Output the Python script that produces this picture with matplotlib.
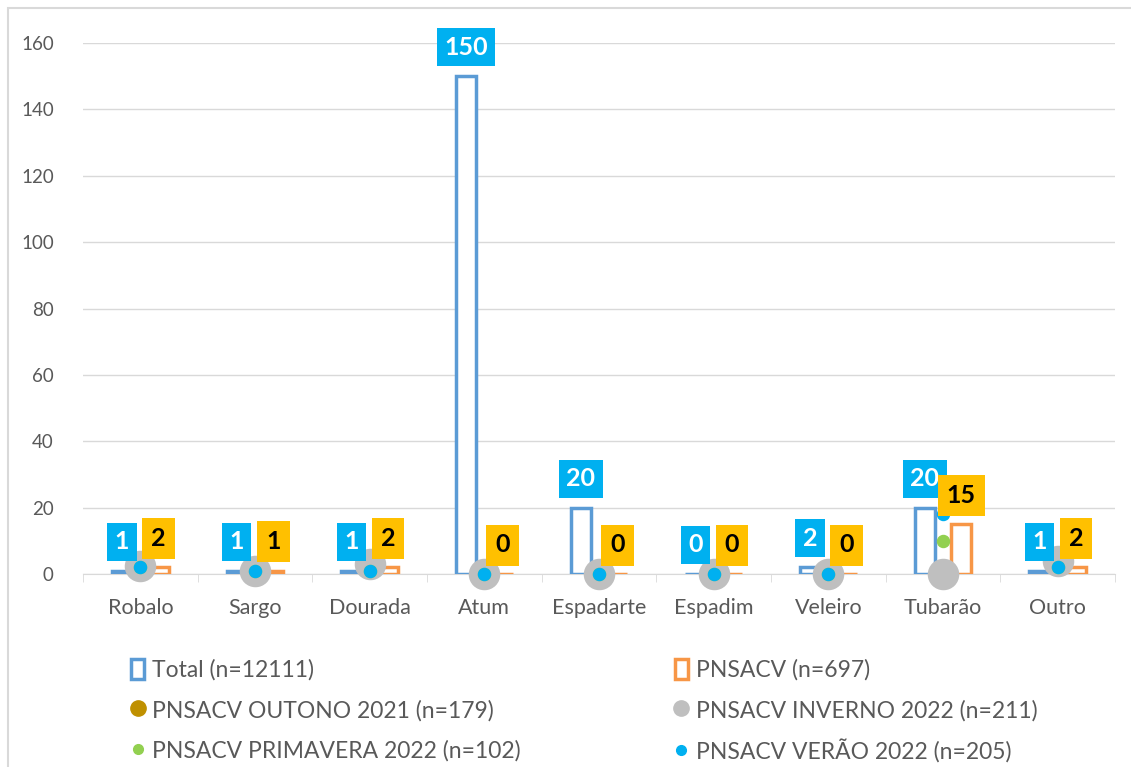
import numpy as np
import matplotlib.pyplot as plt
from matplotlib.patches import Patch, Rectangle
from matplotlib.lines import Line2D

plt.rcParams['font.family'] = ['Lato', 'DejaVu Sans']

especies = ['Robalo', 'Sargo', 'Dourada', 'Atum', 'Espadarte',
            'Espadim', 'Veleiro', 'Tubarão', 'Outro']
total = [1, 1, 1, 150, 20, 0, 2, 20, 1]
pnsacv = [2, 1, 2, 0, 0, 0, 0, 15, 2]
outono = [2.5, 1, 3, 0, 0, 0, 0, 0, 4]
inverno = [2.5, 1, 3, 0, 0, 0, 0, 0, 4]
primavera = [2, 1, 1, 0, 0, 0, 0, 10, 2]
verao = [2, 1, 1, 0, 0, 0, 0, 18, 2]

c_total = '#5B9BD5'
c_pnsacv = '#F79646'
c_outono = '#BF9000'
c_inverno = '#BFBFBF'
c_primavera = '#92D050'
c_verao = '#00B0F0'
c_lab_total = '#00B0F0'
c_lab_pnsacv = '#FFC000'
txt_grey = '#595959'

fig = plt.figure(figsize=(11.31, 7.67), dpi=100)
fig.patches.append(Rectangle((8 / 1131, -0.05), 1.2, 1 - 8 / 767 + 0.05,
                             transform=fig.transFigure, fill=False,
                             edgecolor='#D9D9D9', lw=1.5))
ax = fig.add_axes([83 / 1131, 1 - 574 / 767, (1115 - 83) / 1131, (574 - 43) / 767])

x = np.arange(len(especies))
w = 0.175
off = 0.16

ax.bar(x - off, total, w, facecolor='white', edgecolor=c_total, lw=2.5, zorder=3)
ax.bar(x + off, pnsacv, w, facecolor='white', edgecolor=c_pnsacv, lw=2.5, zorder=3)

ax.scatter(x, outono, s=200, color=c_outono, zorder=4, clip_on=False)
ax.scatter(x, inverno, s=470, color=c_inverno, zorder=5, clip_on=False)
ax.scatter(x, primavera, s=75, color=c_primavera, zorder=6, clip_on=False)
ax.scatter(x, verao, s=75, color=c_verao, zorder=7, clip_on=False)

# value boxes above the bars
for xi, v in zip(x, total):
    ax.annotate(str(v), (xi - off, v), xytext=(0, 29), textcoords='offset pixels',
                ha='center', va='center', fontsize=18, fontweight='bold', color='white',
                bbox=dict(boxstyle='square,pad=0.3', fc=c_lab_total, ec='none'), zorder=10)
for xi, v in zip(x, pnsacv):
    ax.annotate(str(v), (xi + off, v), xytext=(0, 29), textcoords='offset pixels',
                ha='center', va='center', fontsize=18, fontweight='bold', color='black',
                bbox=dict(boxstyle='square,pad=0.36', fc=c_lab_pnsacv, ec='none'), zorder=11)

ax.set_xlim(-0.5, len(especies) - 0.5)
ax.set_ylim(0, 160)
ax.set_yticks(np.arange(0, 161, 20))
ax.yaxis.grid(True, color='#D9D9D9', lw=1)
ax.set_axisbelow(True)
ax.tick_params(axis='y', length=0, labelsize=13.5, labelcolor=txt_grey, pad=21)
ax.set_xticks(x)
ax.set_xticklabels(especies)
ax.tick_params(axis='x', length=0, labelsize=15.5, labelcolor=txt_grey, pad=17)
ax.set_xticks(np.arange(-0.5, len(especies), 1), minor=True)
ax.tick_params(axis='x', which='minor', length=6, color='#D9D9D9')
for s in ['top', 'right', 'left']:
    ax.spines[s].set_visible(False)
ax.spines['bottom'].set_color('#D9D9D9')

h_total = Patch(facecolor='white', edgecolor=c_total, lw=2.5)
h_pnsacv = Patch(facecolor='white', edgecolor=c_pnsacv, lw=2.5)
def dot(c, ms):
    return Line2D([], [], ls='none', marker='o', color=c, markersize=ms)

handles = [h_total, dot(c_outono, 11), dot(c_primavera, 7),
           h_pnsacv, dot(c_inverno, 11), dot(c_verao, 7)]
labels = ['Total (n=12111)', 'PNSACV OUTONO 2021 (n=179)', 'PNSACV PRIMAVERA 2022 (n=102)',
          'PNSACV (n=697)', 'PNSACV INVERNO 2022 (n=211)', 'PNSACV VERÃO 2022 (n=205)']
leg = fig.legend(handles, labels, ncol=2, loc='upper left',
                 bbox_to_anchor=(110 / 1131, 1 - 638 / 767), frameon=False,
                 fontsize=16.5, labelcolor=txt_grey, handlelength=0.6, handleheight=1.0,
                 handletextpad=0.35, columnspacing=6.7, labelspacing=0.8)

fig.savefig('out.png', dpi=100)
